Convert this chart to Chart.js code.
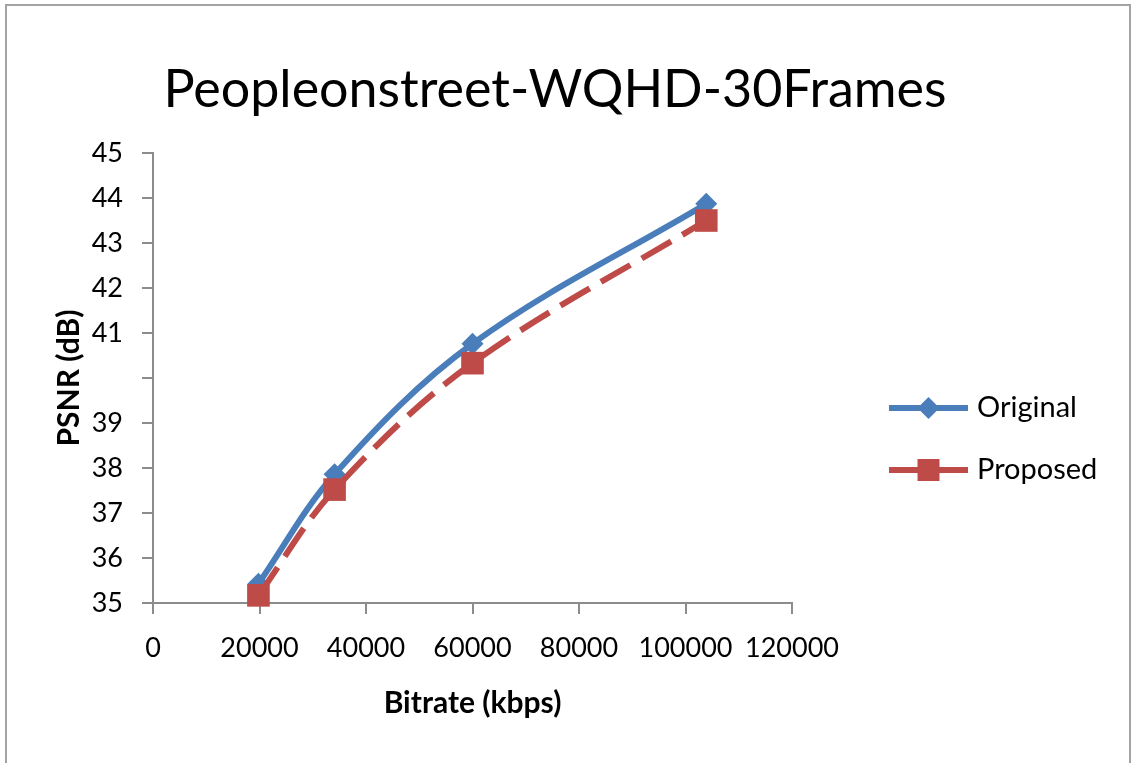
<!DOCTYPE html>
<html>
<head>
<meta charset="utf-8">
<title>Peopleonstreet-WQHD-30Frames</title>
<script src="https://cdn.jsdelivr.net/npm/chart.js@4/dist/chart.umd.min.js"></script>
<style>
  html, body { margin: 0; padding: 0; background: #fff; overflow: hidden; }
  #frame {
    position: absolute; left: 5px; top: 4px; width: 1126px; height: 800px;
    border: 2px solid #a3a3a3; box-sizing: border-box;
  }
  #wrap { position: absolute; left: 0; top: 0; width: 1133px; height: 763px; }
</style>
</head>
<body>
<div id="frame"></div>
<div id="wrap"><canvas id="chart" width="1133" height="763"></canvas></div>
<script>
// Rate-distortion points (bitrate in kbps, PSNR in dB)
const bitrates = [19800, 34100, 60000, 103900];
const psnrOriginal = [35.43, 37.86, 40.76, 43.87];
const psnrProposed = [35.17, 37.52, 40.33, 43.50];
const seriesNames = ['Original', 'Proposed'];

const xTickValues = [0, 20000, 40000, 60000, 80000, 100000, 120000];
const xTickLabels = ['0', '20000', '40000', '60000', '80000', '100000', '120000'];
const yTickValues = [35, 36, 37, 38, 39, 40, 41, 42, 43, 44, 45];
const yTickLabels = ['35', '36', '37', '38', '39', '', '41', '42', '43', '44', '45'];

const BLUE = '#4a7ebb';
const RED = '#be4b48';
const AXIS = '#8c8c8c';
const FONT = 'Lato, "Open Sans", sans-serif';

const toPoints = (xs, ys) => xs.map((x, i) => ({ x: x, y: ys[i] }));

// Legend drawn to the right of the plot: line sample with marker, then the name
const sideLegend = {
  id: 'sideLegend',
  afterDraw(chart) {
    const ctx = chart.ctx;
    const rows = [
      { name: seriesNames[0], color: BLUE, shape: 'diamond', y: 408 },
      { name: seriesNames[1], color: RED, shape: 'square', y: 470 }
    ];
    const x0 = 889, x1 = 968, xm = (x0 + x1) / 2;
    ctx.save();
    rows.forEach(r => {
      ctx.strokeStyle = r.color;
      ctx.lineWidth = 6;
      ctx.lineCap = 'butt';
      ctx.beginPath();
      ctx.moveTo(x0, r.y);
      ctx.lineTo(x1, r.y);
      ctx.stroke();
      ctx.fillStyle = r.color;
      ctx.beginPath();
      if (r.shape === 'diamond') {
        const s = 11;
        ctx.moveTo(xm, r.y - s);
        ctx.lineTo(xm + s, r.y);
        ctx.lineTo(xm, r.y + s);
        ctx.lineTo(xm - s, r.y);
        ctx.closePath();
      } else {
        const h = 11;
        ctx.rect(xm - h, r.y - h, 2 * h, 2 * h);
      }
      ctx.fill();
      ctx.fillStyle = '#000';
      ctx.font = '29px ' + FONT;
      ctx.textAlign = 'left';
      ctx.textBaseline = 'middle';
      ctx.fillText(r.name, 977, r.y);
    });
    ctx.restore();
  }
};

new Chart(document.getElementById('chart'), {
  type: 'line',
  data: {
    datasets: [
      {
        label: seriesNames[0],
        data: toPoints(bitrates, psnrOriginal),
        borderColor: BLUE,
        backgroundColor: BLUE,
        borderWidth: 6,
        tension: 0.35,
        pointStyle: 'rectRot',
        pointRadius: 11,
        pointHoverRadius: 11,
        pointBorderWidth: 0,
        pointBackgroundColor: BLUE,
        clip: false,
        order: 1
      },
      {
        label: seriesNames[1],
        data: toPoints(bitrates, psnrProposed),
        borderColor: RED,
        backgroundColor: RED,
        borderWidth: 6,
        borderDash: [34, 13],
        tension: 0.35,
        pointStyle: 'rect',
        pointRadius: 16,
        pointHoverRadius: 16,
        pointBorderWidth: 0,
        pointBackgroundColor: RED,
        clip: false,
        order: 0
      }
    ]
  },
  options: {
    responsive: false,
    animation: false,
    devicePixelRatio: 1,
    layout: { padding: { left: 0, right: 23, top: 0, bottom: 0 } },
    plugins: {
      legend: { display: false },
      tooltip: { enabled: false },
      title: {
        display: true,
        text: 'Peopleonstreet-WQHD-30Frames',
        color: '#000',
        font: { family: FONT, size: 52, weight: 'normal', lineHeight: 1.2 },
        padding: { top: 59, bottom: 31.6 }
      }
    },
    scales: {
      x: {
        type: 'linear',
        position: 'bottom',
        min: 0,
        max: 120000,
        afterFit(scale) { scale.height = 160; },
        afterBuildTicks(scale) { scale.ticks = xTickValues.map(v => ({ value: v })); },
        ticks: {
          color: '#000',
          padding: 18,
          maxRotation: 0,
          autoSkip: false,
          font: { family: FONT, size: 27 },
          callback: v => { const i = xTickValues.indexOf(v); return i >= 0 ? xTickLabels[i] : ''; }
        },
        grid: { drawOnChartArea: false, drawTicks: true, tickLength: 11, color: AXIS, lineWidth: 2 },
        border: { display: true, color: AXIS, width: 2 },
        title: {
          display: true,
          text: 'Bitrate (kbps)',
          color: '#000',
          font: { family: FONT, size: 30, weight: 'bold', lineHeight: 1.2 },
          padding: { top: 0, bottom: 42 }
        }
      },
      y: {
        type: 'linear',
        position: 'left',
        min: 35,
        max: 45,
        afterFit(scale) { scale.width = 153; },
        afterBuildTicks(scale) { scale.ticks = yTickValues.map(v => ({ value: v })); },
        ticks: {
          color: '#000',
          padding: 19,
          autoSkip: false,
          font: { family: FONT, size: 27 },
          callback: v => { const i = yTickValues.indexOf(v); return i >= 0 ? yTickLabels[i] : ''; }
        },
        grid: { drawOnChartArea: false, drawTicks: true, tickLength: 11, color: AXIS, lineWidth: 2 },
        border: { display: true, color: AXIS, width: 2 },
        title: {
          display: true,
          text: 'PSNR (dB)',
          color: '#000',
          font: { family: FONT, size: 30, weight: 'bold', lineHeight: 1.2 },
          padding: { top: 51, bottom: 0 }
        }
      },
      // empty right-hand band that holds the legend area
      legendBand: {
        type: 'linear',
        position: 'right',
        display: true,
        afterFit(scale) { scale.width = 318; },
        ticks: { display: false },
        grid: { display: false, drawTicks: false },
        border: { display: false },
        title: { display: false }
      }
    }
  },
  plugins: [sideLegend]
});
</script>
</body>
</html>
